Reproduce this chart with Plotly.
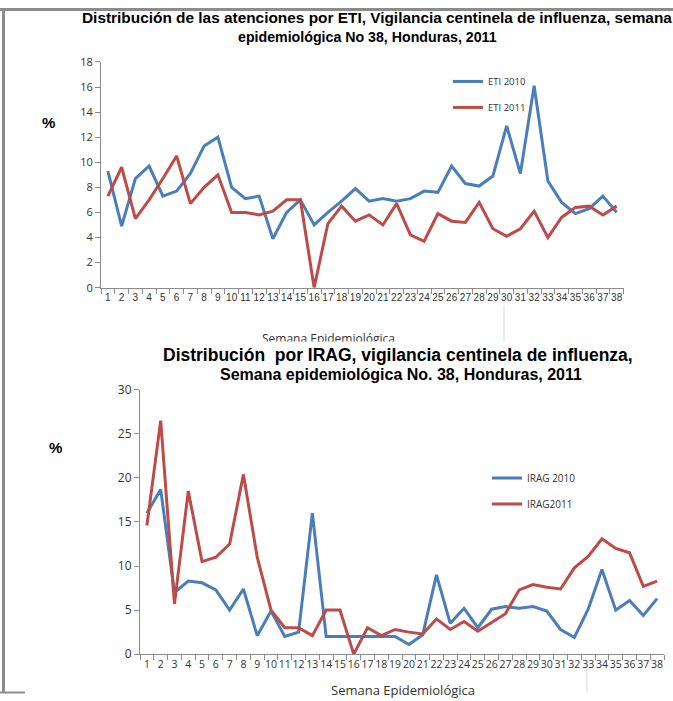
import plotly.graph_objects as go

W, H = 673, 701

weeks = list(range(1, 39))
week_labels = [str(w) for w in weeks]

eti_2010 = [9.3, 4.9, 8.7, 9.7, 7.3, 7.7, 9.1, 11.3, 12.0, 8.0, 7.1, 7.3, 3.9, 6.0, 7.0,
            5.0, 6.0, 6.9, 7.9, 6.9, 7.1, 6.9, 7.1, 7.7, 7.6, 9.7, 8.3, 8.1, 8.9, 12.9,
            9.1, 16.1, 8.5, 6.8, 5.9, 6.3, 7.3, 6.0]
eti_2011 = [7.3, 9.6, 5.5, 7.0, 8.7, 10.5, 6.7, 8.0, 9.0, 6.0, 6.0, 5.8, 6.1, 7.0, 7.0,
            0.0, 5.1, 6.5, 5.3, 5.8, 5.0, 6.7, 4.2, 3.7, 5.9, 5.3, 5.2, 6.8, 4.7, 4.1,
            4.7, 6.1, 4.0, 5.6, 6.4, 6.5, 5.8, 6.5]

irag_2010 = [16.0, 18.7, 7.0, 8.3, 8.1, 7.3, 5.0, 7.4, 2.1, 4.9, 2.0, 2.5, 16.0, 2.0, 2.0,
             2.0, 2.0, 2.0, 2.0, 1.1, 2.2, 9.0, 3.5, 5.2, 3.0, 5.1, 5.4, 5.2, 5.4, 4.9,
             2.8, 1.9, 5.1, 9.6, 5.0, 6.1, 4.4, 6.3]
irag_2011 = [14.6, 26.5, 5.7, 18.5, 10.5, 11.0, 12.5, 20.4, 11.0, 5.0, 3.0, 3.0, 2.1, 5.0, 5.0,
             0.0, 3.0, 2.1, 2.8, 2.5, 2.3, 4.0, 2.8, 3.7, 2.6, 3.6, 4.6, 7.3, 7.9, 7.6,
             7.4, 9.8, 11.1, 13.1, 12.0, 11.5, 7.7, 8.3]

BLUE = "#4a7ebb"
RED = "#be4b48"
AXIS = "#8c8c8c"


def px_x(p):
    return p / W


def px_y(p):
    # the photographed page comes out slightly squeezed vertically, so undo that here
    f = (p - 8.0) / 0.977
    f = min(max(f, 0.5), H - 0.5)
    return 1 - f / H


fig = go.Figure()

fig.add_trace(go.Scatter(x=weeks, y=eti_2010, name="ETI 2010", mode="lines",
                         line=dict(color=BLUE, width=3), xaxis="x", yaxis="y",
                         legend="legend", legendgroup="a"))
fig.add_trace(go.Scatter(x=weeks, y=eti_2011, name="ETI 2011", mode="lines",
                         line=dict(color=RED, width=3), xaxis="x", yaxis="y",
                         legend="legend", legendgroup="b"))
fig.add_trace(go.Scatter(x=weeks, y=irag_2010, name="IRAG 2010", mode="lines",
                         line=dict(color=BLUE, width=3), xaxis="x2", yaxis="y2",
                         legend="legend2", legendgroup="c"))
fig.add_trace(go.Scatter(x=weeks, y=irag_2011, name="IRAG2011", mode="lines",
                         line=dict(color=RED, width=3), xaxis="x2", yaxis="y2",
                         legend="legend2", legendgroup="d"))

xcommon = dict(range=[0.5, 38.5], tickvals=weeks, ticktext=week_labels, ticks="",
               tickangle=0, showline=True, linecolor=AXIS, linewidth=1, showgrid=False,
               zeroline=False,
               minor=dict(ticks="outside", tick0=0.5, dtick=1, ticklen=5, tickcolor=AXIS,
                          showgrid=False))
ycommon = dict(showline=True, linecolor=AXIS, linewidth=1, showgrid=False, zeroline=False,
               ticks="outside", ticklen=5, tickcolor=AXIS)

fig.update_layout(
    width=W, height=H,
    margin=dict(l=0, r=0, t=0, b=0),
    paper_bgcolor="white", plot_bgcolor="white",
    font=dict(family="Liberation Sans, Arial, sans-serif", color="#333333"),
    xaxis=dict(xcommon, domain=[px_x(101), px_x(623.5)], anchor="y",
               tickfont=dict(size=10, family="Liberation Sans", color="#333333")),
    yaxis=dict(ycommon, domain=[px_y(287), px_y(61)], range=[0, 18], dtick=2, anchor="x",
               tickfont=dict(size=11, family="Open Sans", color="#333333")),
    xaxis2=dict(xcommon, domain=[px_x(140), px_x(664)], anchor="y2",
                tickfont=dict(size=10.5, family="Open Sans", color="#333333")),
    yaxis2=dict(ycommon, domain=[px_y(654), px_y(389.3)], range=[0, 30], dtick=5,
                anchor="x2", tickfont=dict(size=12, family="Open Sans", color="#333333")),
    legend=dict(x=px_x(448), y=px_y(66), xanchor="left", yanchor="top",
                traceorder="grouped", tracegroupgap=7, itemwidth=30,
                font=dict(size=9.5, family="Open Sans", color="#333333"),
                bgcolor="rgba(0,0,0,0)"),
    legend2=dict(x=px_x(487), y=px_y(463), xanchor="left", yanchor="top",
                 traceorder="grouped", tracegroupgap=7, itemwidth=30,
                 font=dict(size=10, family="Open Sans", color="#333333"),
                 bgcolor="rgba(0,0,0,0)"),
)

annotations = [
    # top chart x title (partly hidden by the second chart's title, like the original)
    dict(text="Semana Epidemiológica", x=px_x(328), y=px_y(338),
         font=dict(size=12, family="Open Sans", color="#333333")),
    dict(text="Distribución&nbsp;&nbsp;por IRAG, vigilancia centinela de influenza,",
         x=px_x(398), y=px_y(354), bgcolor="white", borderpad=3,
         font=dict(size=17.5, family="Liberation Sans", color="black", weight="bold")),
    dict(text="Semana epidemiológica No. 38, Honduras, 2011", x=px_x(401), y=px_y(374),
         font=dict(size=16, family="Liberation Sans", color="black", weight="bold")),
    dict(text="Distribución de las atenciones por ETI, Vigilancia centinela de influenza, semana",
         x=px_x(377), y=px_y(17),
         font=dict(size=15.4, family="Liberation Sans", color="black", weight="bold")),
    dict(text="epidemiológica No 38, Honduras, 2011", x=px_x(368), y=px_y(36),
         font=dict(size=14.2, family="Liberation Sans", color="black", weight="bold")),
    dict(text="%", x=px_x(48), y=px_y(122),
         font=dict(size=15, family="Liberation Sans", color="black", weight="bold")),
    dict(text="%", x=px_x(55), y=px_y(447),
         font=dict(size=15, family="Liberation Sans", color="black", weight="bold")),
    dict(text="Semana Epidemiológica", x=px_x(403), y=px_y(690),
         font=dict(size=13, family="Open Sans", color="#333333")),
]
for a in annotations:
    a.update(xref="paper", yref="paper", showarrow=False, xanchor="center", yanchor="middle")
fig.update_layout(annotations=annotations)

# page frame
frame = [
    dict(x0=0, x1=W, y0=0, y1=0, color="#8c8c8c", width=3),
    dict(x0=3.5, x1=3.5, y0=0, y1=H, color="#8c8c8c", width=3),
    dict(x0=0, x1=25, y0=H, y1=H, color="#8c8c8c", width=2),
    dict(x0=504, x1=504, y0=305, y1=352, color="#d9d9d9", width=1),
    dict(x0=587, x1=587, y0=668, y1=H, color="#d9d9d9", width=1),
]
for s in frame:
    fig.add_shape(type="line", xref="paper", yref="paper",
                  x0=px_x(s["x0"]), x1=px_x(s["x1"]), y0=px_y(s["y0"]), y1=px_y(s["y1"]),
                  line=dict(color=s["color"], width=s["width"]))

fig.write_html(
    "out.html",
    config={"displayModeBar": False},
    post_script="document.body.style.margin='0';"
                "document.documentElement.style.overflow='hidden';",
)
